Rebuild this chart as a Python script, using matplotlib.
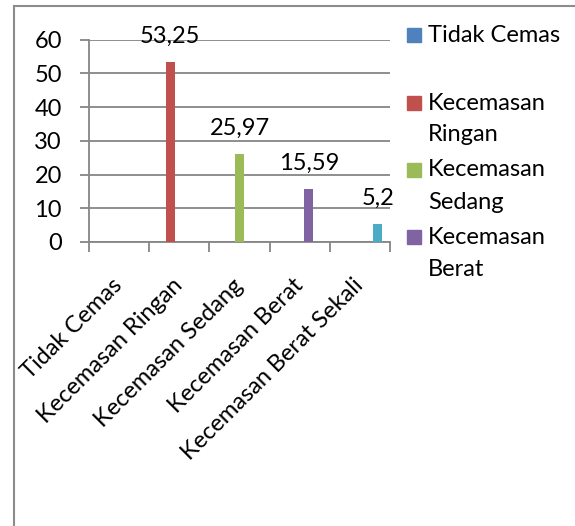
import numpy as np
import matplotlib.pyplot as plt
from matplotlib.patches import Rectangle

plt.rcParams['font.family'] = ['Lato', 'DejaVu Sans']

categories = ["Tidak Cemas", "Kecemasan Ringan", "Kecemasan Sedang",
              "Kecemasan Berat", "Kecemasan Berat Sekali"]
values = [0, 53.25, 25.97, 15.59, 5.2]
value_labels = ["", "53,25", "25,97", "15,59", "5,2"]
colors = ["#4F81BD", "#C0504D", "#9BBB59", "#8064A2", "#4BACC6"]
legend_labels = ["Tidak Cemas", "Kecemasan\nRingan", "Kecemasan\nSedang", "Kecemasan\nBerat"]
yticks = [0, 10, 20, 30, 40, 50, 60]

W, H = 575, 526
fig = plt.figure(figsize=(W / 100, H / 100), dpi=100)
ax = fig.add_axes([89 / W, 1 - 242 / H, 301 / W, 202.5 / H])

grid_c = "#868686"
fs = 17
w = 0.15
x = np.arange(len(categories))
for i in range(len(categories)):
    xb = x[i] + (i - 2) * w
    ax.bar(xb, values[i], w, color=colors[i], zorder=3)
    if value_labels[i]:
        ax.annotate(value_labels[i], (xb, values[i]), xytext=(0, 19),
                    textcoords="offset points", ha="center", va="center",
                    fontsize=fs, color="black", annotation_clip=False)

ax.set_xlim(-0.5, len(categories) - 0.5)
ax.set_ylim(0, 60)
ax.set_yticks(yticks)
ax.set_yticklabels([str(t) for t in yticks])
ax.yaxis.grid(True, color=grid_c, linewidth=1.3, zorder=0)
ax.set_xticks(x)
ax.set_xticks(np.arange(-0.5, len(categories)), minor=True)
ax.set_xticklabels(categories, rotation=45, ha="right", va="center",
                   rotation_mode="anchor", fontsize=fs)
ax.tick_params(axis="x", which="major", length=0, pad=29)
ax.tick_params(axis="x", which="minor", length=7, width=1.3, color=grid_c, direction="out")
ax.tick_params(axis="y", length=6.5, width=1.3, color=grid_c, pad=13, labelsize=fs)
for s in ["top", "right"]:
    ax.spines[s].set_visible(False)
for s in ["left", "bottom"]:
    ax.spines[s].set_color(grid_c)
    ax.spines[s].set_linewidth(1.3)

# legend (only first four entries fit, as in the original)
first_line_y = [35, 103, 170, 237]
for i, lab in enumerate(legend_labels):
    y0 = first_line_y[i]
    fig.patches.append(Rectangle((407 / W, 1 - (y0 + 7) / H), 14 / W, 14 / H,
                                 transform=fig.transFigure, color=colors[i]))
    for j, line in enumerate(lab.split("\n")):
        fig.text(428 / W, 1 - (y0 + 32 * j) / H, line, fontsize=fs,
                 va="center", ha="left")

# outer frame
fig.patches.append(Rectangle((14 / W, -0.1), 1.2, 1 - 6 / H + 0.1,
                             transform=fig.transFigure, fill=False,
                             edgecolor="#8c8c8c", linewidth=1.5))

fig.savefig("out.png", dpi=100)
